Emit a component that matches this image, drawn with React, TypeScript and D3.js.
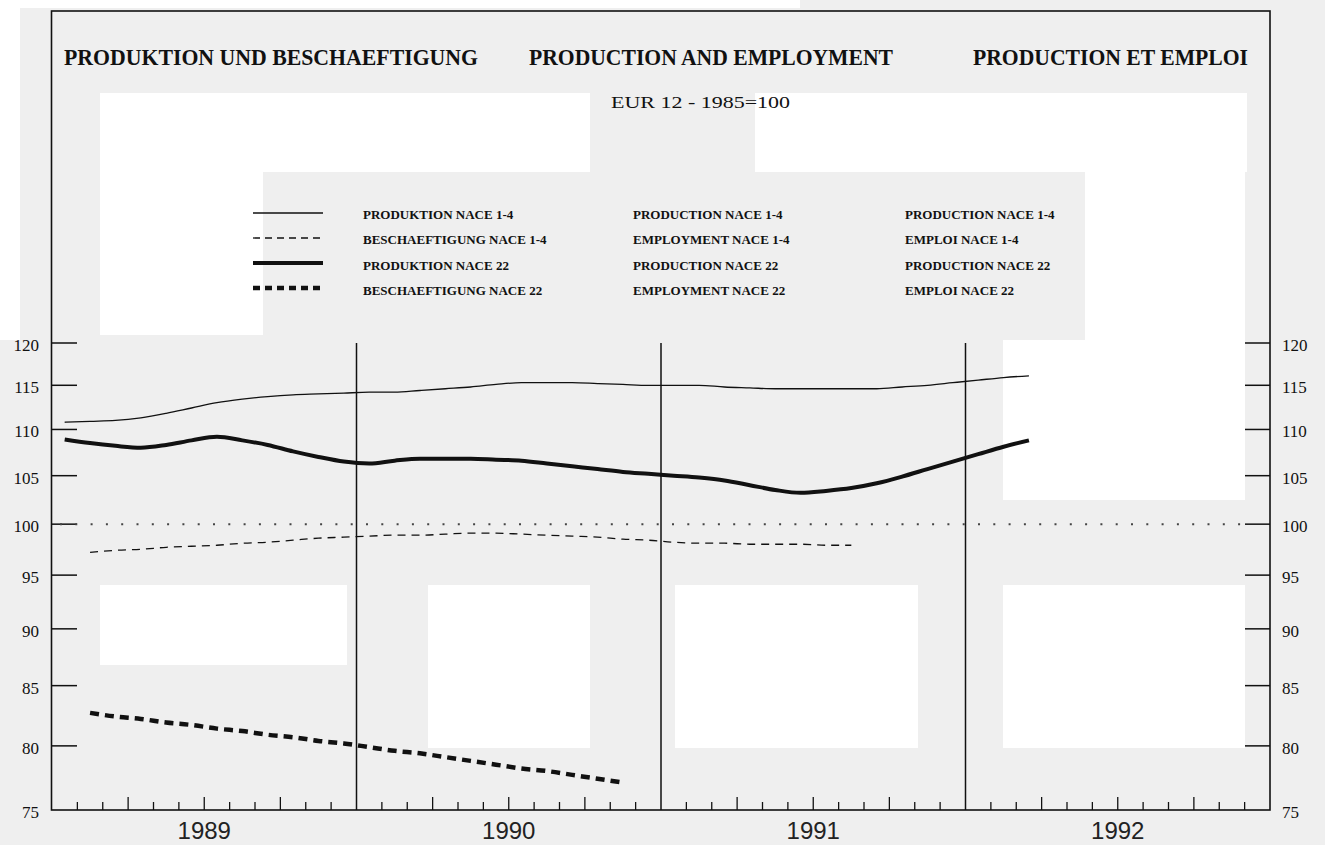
import React from 'react';
import * as d3 from 'd3';

// ---------- data ----------
const years = ['1989', '1990', '1991', '1992'];
const yTicks = [75, 80, 85, 90, 95, 100, 105, 110, 115, 120];
const titles = ['PRODUKTION UND BESCHAEFTIGUNG', 'PRODUCTION AND EMPLOYMENT', 'PRODUCTION ET EMPLOI'];
const subtitle = 'EUR 12 - 1985=100';
const legendDE = ['PRODUKTION NACE 1-4', 'BESCHAEFTIGUNG NACE 1-4', 'PRODUKTION NACE 22', 'BESCHAEFTIGUNG NACE 22'];
const legendEN = ['PRODUCTION NACE 1-4', 'EMPLOYMENT NACE 1-4', 'PRODUCTION NACE 22', 'EMPLOYMENT NACE 22'];
const legendFR = ['PRODUCTION NACE 1-4', 'EMPLOI NACE 1-4', 'PRODUCTION NACE 22', 'EMPLOI NACE 22'];

// monthly index values, first month given as months since Jan 1989
const prod14Start = 0; // Jan 1989
const prod14 = [110.8, 110.9, 111.0, 111.3, 111.8, 112.4, 113.0, 113.4, 113.7, 113.9,
  114.0, 114.1, 114.2, 114.2, 114.4, 114.6, 114.8, 115.1, 115.3, 115.3,
  115.3, 115.2, 115.1, 115.0, 115.0, 115.0, 114.8, 114.7, 114.6, 114.6,
  114.6, 114.6, 114.6, 114.8, 115.0, 115.3, 115.6, 115.9, 116.1];

const emp14Start = 1; // Feb 1989
const emp14 = [97.2, 97.4, 97.5, 97.7, 97.8, 97.9, 98.1, 98.2, 98.4, 98.6,
  98.7, 98.8, 98.9, 98.9, 99.0, 99.1, 99.1, 99.0, 98.9, 98.8,
  98.7, 98.5, 98.4, 98.2, 98.1, 98.1, 98.0, 98.0, 98.0, 97.9, 97.9];

const prod22Start = 0; // Jan 1989
const prod22 = [108.9, 108.5, 108.2, 108.0, 108.3, 108.8, 109.2, 108.8, 108.3, 107.6,
  107.0, 106.5, 106.3, 106.6, 106.8, 106.8, 106.8, 106.7, 106.6, 106.3,
  106.0, 105.7, 105.4, 105.2, 105.0, 104.8, 104.5, 104.0, 103.5, 103.2,
  103.4, 103.7, 104.2, 104.9, 105.7, 106.5, 107.3, 108.1, 108.8];

const emp22Start = 1; // Feb 1989
const emp22 = [82.7, 82.4, 82.2, 81.9, 81.7, 81.4, 81.2, 80.9, 80.7, 80.4,
  80.2, 79.9, 79.6, 79.4, 79.1, 78.8, 78.5, 78.2, 78.0, 77.7, 77.4, 77.1];

const baseline = 100;

// ---------- chart ----------
const W = 1325;
const H = 845;
const INK = '#111';
const SERIF = '"Liberation Serif", "DejaVu Serif", serif';

export default function App() {
  const x = d3.scaleLinear().domain([0, 48]).range([52, 1270]);
  const y = d3.scaleLog().domain([75, 120]).range([810, 343]);

  const lineFor = (start: number) =>
    d3.line<number>()
      .x((_, i) => x(start + i + 0.5))
      .y((d) => y(d))
      .curve(d3.curveMonotoneX);

  const series = [
    { data: prod14, start: prod14Start, width: 1.3, dash: undefined as string | undefined, legDash: undefined as string | undefined },
    { data: emp14, start: emp14Start, width: 1.3, dash: '8,6', legDash: '7,5' },
    { data: prod22, start: prod22Start, width: 4, dash: undefined, legDash: undefined },
    { data: emp22, start: emp22Start, width: 4.5, dash: '9,6', legDash: '7,5' },
  ];

  // decorative paper / scan tone patches
  const patches = [
    [100, 93, 163, 242], [263, 93, 327, 79], [755, 93, 492, 79],
    [1085, 172, 160, 168], [1003, 340, 242, 160],
    [100, 585, 247, 80], [428, 585, 162, 163], [675, 585, 243, 163], [1003, 585, 242, 163],
    [0, 0, 20, 340], [0, 0, 800, 8],
  ];

  const months = d3.range(1, 48);
  const yearLines = [12, 24, 36];

  return (
    <svg width={W} height={H} style={{ position: 'absolute', left: 0, top: 0, display: 'block' }}>
      <rect x={0} y={0} width={W} height={H} fill="#efefef" />
      {patches.map((p, i) => (
        <rect key={i} x={p[0]} y={p[1]} width={p[2]} height={p[3]} fill="#ffffff" />
      ))}

      {/* frame */}
      <rect x={51.5} y={11} width={1218.5} height={799} fill="none" stroke={INK} strokeWidth={1.6} />

      {/* titles */}
      <g fontFamily={SERIF} fontWeight="bold" fontSize={24} fill={INK}>
        <text x={64} y={65} textLength={414} lengthAdjust="spacingAndGlyphs">{titles[0]}</text>
        <text x={529} y={65} textLength={364} lengthAdjust="spacingAndGlyphs">{titles[1]}</text>
        <text x={973} y={65} textLength={275} lengthAdjust="spacingAndGlyphs">{titles[2]}</text>
      </g>
      <text x={611} y={108} fontFamily={SERIF} fontSize={16} fill={INK}
        textLength={179} lengthAdjust="spacingAndGlyphs">{subtitle}</text>

      {/* legend */}
      <g>
        {series.map((s, i) => (
          <line key={'ls' + i} x1={253} x2={323} y1={213 + i * 25} y2={213 + i * 25}
            stroke={INK} strokeWidth={s.width} strokeDasharray={s.legDash} />
        ))}
        <g fontFamily={SERIF} fontWeight="bold" fontSize={13} fill={INK}>
          {legendDE.map((t, i) => (
            <text key={'de' + i} x={363} y={219 + i * 25.3}>{t}</text>
          ))}
          {legendEN.map((t, i) => (
            <text key={'en' + i} x={633} y={219 + i * 25.3}>{t}</text>
          ))}
          {legendFR.map((t, i) => (
            <text key={'fr' + i} x={905} y={219 + i * 25.3}>{t}</text>
          ))}
        </g>
      </g>

      {/* y ticks and labels */}
      {yTicks.filter((v) => v > 75).map((v) => (
        <g key={'yt' + v}>
          <line x1={52} x2={77} y1={y(v)} y2={y(v)} stroke={INK} strokeWidth={1.5} />
          <line x1={1245} x2={1270} y1={y(v)} y2={y(v)} stroke={INK} strokeWidth={1.5} />
        </g>
      ))}
      <g fontFamily={SERIF} fontSize={17} fill={INK}>
        {yTicks.map((v) => (
          <g key={'yl' + v}>
            <text x={39} y={y(v) + 4} textAnchor="end" dominantBaseline="middle">{v}</text>
            <text x={1282} y={y(v) + 4} textAnchor="start" dominantBaseline="middle">{v}</text>
          </g>
        ))}
      </g>

      {/* x ticks */}
      {months.filter((m) => m % 12 !== 0).map((m) => (
        <line key={'xt' + m} x1={x(m)} x2={x(m)} y1={810} y2={810 - (m % 3 === 0 ? 13 : 8)}
          stroke={INK} strokeWidth={1.3} />
      ))}
      {yearLines.map((m) => (
        <line key={'yl' + m} x1={x(m)} x2={x(m)} y1={y(120)} y2={810} stroke={INK} strokeWidth={1.5} />
      ))}
      <g fontFamily='"Liberation Sans", Arial, sans-serif' fontSize={24} fill="#222" textAnchor="middle">
        {years.map((yr, i) => (
          <text key={yr} x={x(i * 12 + 6)} y={839}>{yr}</text>
        ))}
      </g>

      {/* 100 reference dotted line */}
      <line x1={60} x2={1243} y1={y(baseline)} y2={y(baseline)} stroke="#444" strokeWidth={2}
        strokeDasharray="2,13.3" />

      {/* series */}
      {series.map((s, i) => (
        <path key={'s' + i} d={lineFor(s.start)(s.data) || ''} fill="none" stroke={INK}
          strokeWidth={s.width} strokeDasharray={s.dash} strokeLinejoin="round" />
      ))}
    </svg>
  );
}
